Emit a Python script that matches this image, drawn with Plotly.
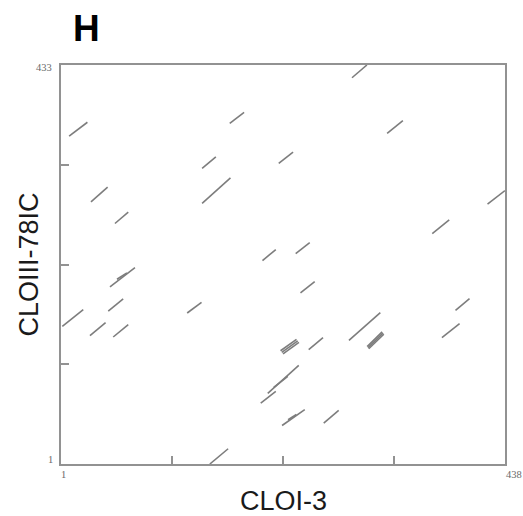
import plotly.graph_objects as go

# Dot-plot match segments (sequence positions): start (x0, y0) -> end (x1, y1)
x_start = [9, 30.5, 54.1, 167.1, 139.9, 139.9, 215.3, 199.3, 232.0, 287.4,
           322.0, 420.8, 366.4, 49.2, 56.1, 47.5, 2.3, 29.5, 52.4, 125.2,
           236.7, 219.5, 218.3, 217.1, 244.8, 284.4, 303.9, 303.1, 302.3,
           197.6, 204.5, 210.4, 218.6, 224.5, 259.6, 147.5, 375.9, 389.3]
y_start = [356, 284.8, 261.4, 369.8, 321.0, 283.1, 326.4, 221.3, 228.9, 419.2,
           358.9, 282.3, 250.5, 192.7, 201.0, 166.6, 150.1, 140.0, 138.5, 164.5,
           186.2, 120.2, 121.9, 123.6, 124.8, 134.9, 125.8, 127.0, 128.2,
           67.0, 77.4, 83.9, 42.7, 48.9, 45.2, 1, 137.8, 167.4]
x_end = [27, 46.9, 67.2, 181.2, 153.4, 167.8, 229.4, 212.4, 245.8, 302.1,
         337.5, 438, 383.1, 73.8, 65.9, 62.2, 22.9, 44.9, 67.2, 139.3,
         250.7, 235.2, 234.0, 232.8, 258.9, 315.3, 318.7, 317.9, 317.1,
         212.4, 235.0, 224.2, 240.9, 232.7, 274.3, 165.5, 393.3, 403.1]
y_end = [371, 300.7, 273.6, 381.7, 333.6, 310.8, 338.7, 233.2, 240.8, 433,
         372.8, 297.0, 265.2, 213.7, 208.0, 179.7, 168.2, 154.1, 151.9, 176.1,
         198.5, 132.6, 134.3, 136.0, 137.8, 164.9, 141.6, 142.8, 144.0,
         79.6, 107.8, 95.9, 59.8, 54.6, 59.0, 17.5, 153.0, 180.1]

x_range = [1, 438]
y_range = [1, 433]
x_ticks = [110.25, 219.5, 328.75]
y_ticks = [109, 217, 325]
x_title = "CLOI-3"
y_title = "CLOIII-78IC"
panel = "H"

xs, ys = [], []
for a, b, c, d in zip(x_start, y_start, x_end, y_end):
    xs += [a, c, None]
    ys += [b, d, None]

fig = go.Figure()
fig.add_trace(go.Scatter(x=xs, y=ys, mode="lines",
                         line=dict(color="#7d7d7d", width=1.6),
                         hoverinfo="skip", showlegend=False, cliponaxis=True))

axis_common = dict(showgrid=False, zeroline=False, showline=True, mirror=True,
                   linecolor="#929292", linewidth=2, ticks="inside", ticklen=8,
                   tickwidth=2, tickcolor="#929292", showticklabels=False)
fig.update_xaxes(range=x_range, tickvals=x_ticks, **axis_common)
fig.update_yaxes(range=y_range, tickvals=y_ticks, **axis_common)

serif = dict(family="Liberation Serif, Times New Roman, serif", size=10.5, color="#6a6a6a")
ann = []
# end labels
ann.append(dict(text=str(y_range[1]), xref="paper", yref="paper", x=0, y=1,
                xanchor="right", yanchor="middle", xshift=-7, yshift=-2,
                showarrow=False, font=serif))
ann.append(dict(text=str(y_range[0]), xref="paper", yref="paper", x=0, y=0,
                xanchor="right", yanchor="middle", xshift=-6, yshift=5,
                showarrow=False, font=serif))
ann.append(dict(text=str(x_range[0]), xref="paper", yref="paper", x=0, y=0,
                xanchor="center", yanchor="middle", xshift=2, yshift=-10,
                showarrow=False, font=serif))
ann.append(dict(text=str(x_range[1]), xref="paper", yref="paper", x=1, y=0,
                xanchor="center", yanchor="middle", xshift=9, yshift=-10,
                showarrow=False, font=serif))
# axis titles
sans = "Arial, Liberation Sans, sans-serif"
ann.append(dict(text=x_title, xref="paper", yref="paper", x=0.5, y=0,
                xanchor="center", yanchor="middle", yshift=-36.5,
                showarrow=False, font=dict(family=sans, size=27, color="#1a1a1a")))
ann.append(dict(text=y_title, xref="paper", yref="paper", x=0, y=0.5,
                xanchor="center", yanchor="middle", xshift=-33, textangle=-90,
                showarrow=False, font=dict(family=sans, size=27, color="#1a1a1a")))
ann.append(dict(text="<b>%s</b>" % panel, xref="paper", yref="paper", x=0, y=1,
                xanchor="center", yanchor="middle", xshift=25, yshift=37,
                showarrow=False, font=dict(family=sans, size=37, color="#000000")))

fig.update_layout(width=523, height=516, margin=dict(l=61, r=18, t=65, b=52),
                  paper_bgcolor="white", plot_bgcolor="white", annotations=ann)

fig.write_html("out.html")
